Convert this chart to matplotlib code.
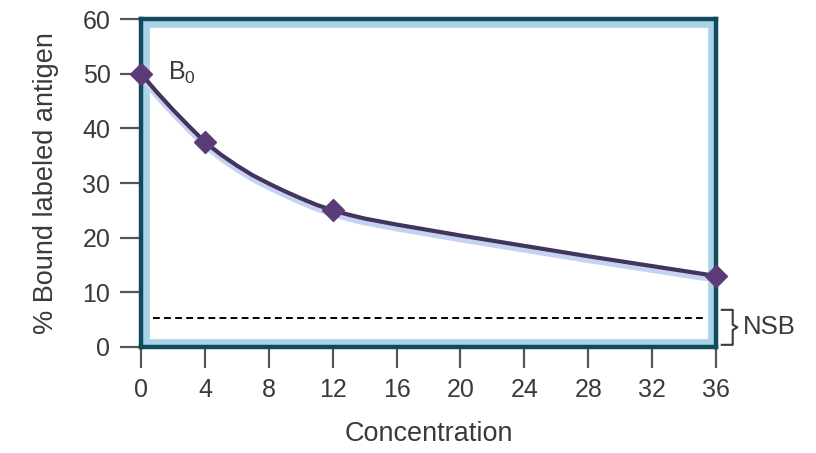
"""Competitive binding curve: % bound labeled antigen vs concentration."""
import matplotlib
matplotlib.use("Agg")
import matplotlib.pyplot as plt
import matplotlib.patheffects as pe
from matplotlib.patches import Rectangle
from matplotlib.transforms import blended_transform_factory

plt.rcParams["font.family"] = ["Liberation Sans", "DejaVu Sans"]
plt.rcParams["mathtext.fontset"] = "custom"
plt.rcParams["mathtext.rm"] = "Liberation Sans"

# measured standards (diamonds)
conc_pts = [0, 4, 12, 36]
bound_pts = [50, 37.5, 25, 13]

# fitted curve
conc_curve = [0, 1, 2, 3, 4, 5, 6, 7, 8, 9, 10, 11, 12, 13, 14, 16, 18, 20,
              24, 28, 32, 36]
bound_curve = [50, 46.6, 43.4, 40.4, 37.5, 35.2, 33.2, 31.4, 29.9, 28.5, 27.2,
               26.0, 25, 24.2, 23.5, 22.4, 21.4, 20.4, 18.5, 16.6, 14.8, 13]

nsb_level = 5.3
nsb_span = [0.75, 35.2]

x_ticks = [0, 4, 8, 12, 16, 20, 24, 28, 32, 36]
y_ticks = [0, 10, 20, 30, 40, 50, 60]

BORDER = "#0f4b5c"
BAND = "#aad4e5"
CURVE = "#42345c"
MARKER = "#5b3c79"
SHADOW = "#c6d2f2"
TEXT = "#3a3a3a"

fig = plt.figure(figsize=(8.16, 4.53), dpi=100)
ax = fig.add_axes([0.1728, 0.234, 0.7047, 0.724])

ax.set_xlim(0, 36)
ax.set_ylim(0, 60)

# light inner band along the frame
ax.add_patch(Rectangle((0, 0), 1, 1, transform=ax.transAxes, fill=False,
                       edgecolor=BAND, linewidth=12, clip_on=True, zorder=1))
for s in ax.spines.values():
    s.set_color(BORDER)
    s.set_linewidth(3.2)
    s.set_zorder(2)

ax.plot(nsb_span, [nsb_level, nsb_level], color="black", lw=1.4,
        linestyle=(0, (3.5, 2.2)), zorder=3)

ax.plot(conc_curve, bound_curve, color=CURVE, lw=3, zorder=4,
        solid_capstyle="round", solid_joinstyle="round", clip_on=False,
        path_effects=[pe.SimpleLineShadow(offset=(0.5, -2.5),
                                          shadow_color=SHADOW,
                                          alpha=1.0, linewidth=5),
                      pe.Normal()])
ax.plot(conc_pts, bound_pts, linestyle="none", marker="D", markersize=11,
        color=MARKER, zorder=5, clip_on=False)

ax.text(1.7, 48.8, r"B$_\mathrm{0}$", fontsize=18, color=TEXT,
        ha="left", va="baseline")

# NSB brace to the right of the frame
tr = blended_transform_factory(ax.transAxes, ax.transData)
bx0, bx1, btip = 1.010, 1.029, 1.037
ylo, yhi = 0.4, 6.8
ymid = (ylo + yhi) / 2
ax.plot([bx0, bx1, bx1, btip, bx1, bx1, bx0],
        [yhi, yhi, ymid + 0.5, ymid, ymid - 0.5, ylo, ylo],
        color=TEXT, lw=1.5, transform=tr, clip_on=False)
ax.text(1.047, ymid, "NSB", fontsize=18.5, color=TEXT, ha="left", va="center",
        transform=tr)

ax.set_xticks(x_ticks)
ax.set_yticks(y_ticks)
ax.tick_params(direction="out", length=15, width=1.6, color="#555555",
               labelcolor=TEXT, labelsize=18, pad=7)
ax.set_xlabel("Concentration", fontsize=19.5, color=TEXT, labelpad=14)
ax.set_ylabel("% Bound labeled antigen", fontsize=19.5, color=TEXT,
              labelpad=17)

fig.savefig("out.png", dpi=100)
